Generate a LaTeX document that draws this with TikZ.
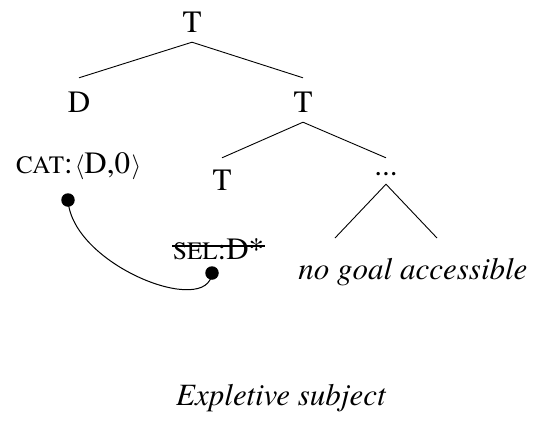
\documentclass[tikz,border=0pt]{standalone}
\usepackage{fontspec}
\setmainfont{texgyretermes}[Extension=.otf, UprightFont=*-regular, ItalicFont=*-italic, BoldFont=*-bold, BoldItalicFont=*-bolditalic]
\newcommand\fsc[1]{{\fontsize{25}{30}\selectfont #1}}
\begin{document}
\begin{tikzpicture}[x=1pt,y=-1pt,
  lab/.style={inner sep=0pt, anchor=base, text height=20pt, text depth=0pt, font=\fontsize{31}{36}\selectfont},
  txt/.style={inner sep=0pt, font=\fontsize{31}{36}\selectfont},
  edge/.style={line width=0.9pt},
  blob/.style={circle, fill=black, inner sep=0pt, minimum size=13.5pt}]
\useasboundingbox (0,0) rectangle (542,421);
% tree labels
\node[lab] (T0) at (192,32) {T};
\node[lab] (D) at (79,112) {D};
\node[lab] (T1) at (303,112) {T};
\node[lab] (T2) at (222,190) {T};
\node[lab] (dots) at (386,175) {...};
% edges
\draw[edge] ([yshift=-10pt]T0.south) -- ([yshift=14pt]D.north);
\draw[edge] ([yshift=-10pt]T0.south) -- ([yshift=14pt]T1.north);
\draw[edge] ([yshift=-10pt]T1.south) -- ([yshift=12pt]T2.north);
\draw[edge] ([yshift=-10pt]T1.south) -- ([yshift=-3pt]dots.north);
% triangle
\coordinate (bl) at (335,238);
\coordinate (br) at (437,238);
\draw[edge] (bl) -- ([yshift=-9pt]dots.south) -- (br);
% features
\node[txt, anchor=base west] (cat) at (16,173) {\fsc{CAT}:\kern2pt$\langle$D,0\kern1.5pt$\rangle$};
\node[txt, anchor=base west] (sel) at (173,259) {\fsc{SEL}:D*};
\draw[line width=1.5pt] ([xshift=-1pt,yshift=13pt]sel.base west) -- ([xshift=1pt,yshift=13pt]sel.base east);
% link
\node[blob] (c1) at (68,200) {};
\node[blob] (c2) at (212,273) {};
\draw[line width=1pt] (c1.center) .. controls (72,265) and (208,318) .. (c2.center);
% texts
\node[txt, anchor=base, font=\fontsize{31}{36}\selectfont\itshape] (goal) at (413,279) {no goal accessible};
\node[txt, anchor=base, font=\fontsize{31}{36}\selectfont\itshape] (cap) at (281,405) {Expletive subject};
\end{tikzpicture}
\end{document}
